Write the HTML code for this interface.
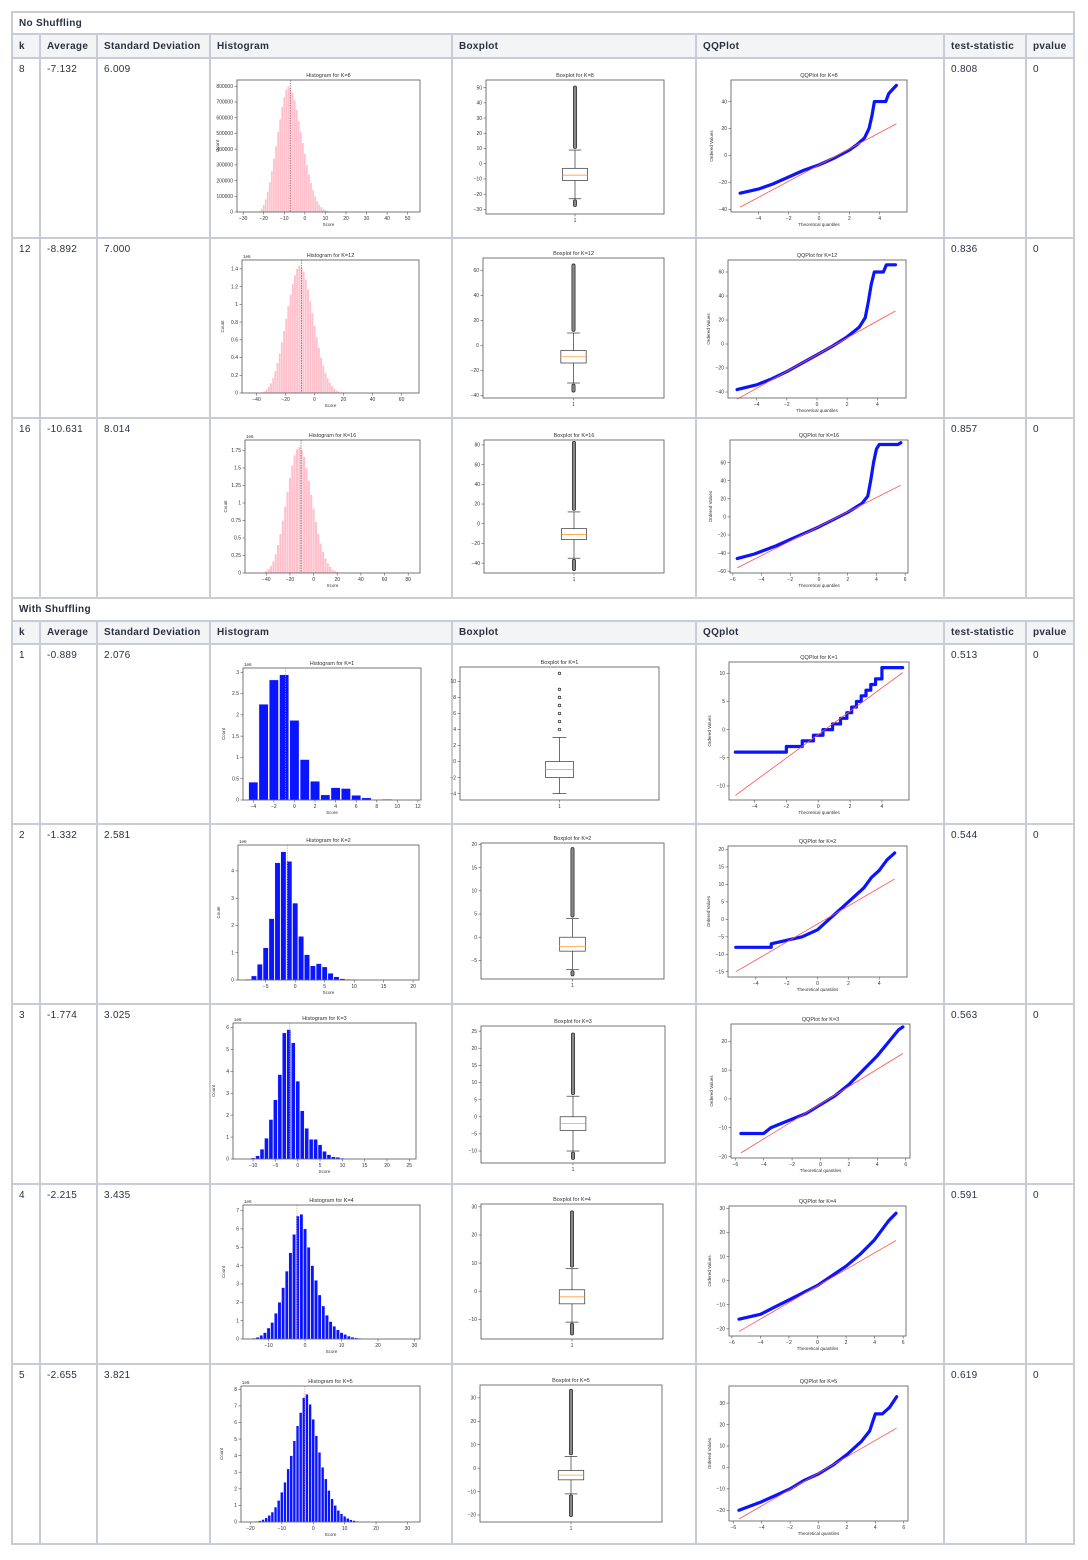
<!DOCTYPE html>
<html><head><meta charset="utf-8">
<style>
body{margin:0;background:#fff;width:1088px;height:1560px;position:relative;font-family:"Liberation Sans",sans-serif;color:#2b3040;}
table{position:absolute;left:11px;top:11px;border-collapse:collapse;table-layout:fixed;width:1062px;}
td,th{border:2px solid #c9ccd6;font-size:10px;text-align:left;vertical-align:top;padding:5px 6px;box-sizing:border-box;letter-spacing:0.3px;}
th{background:#f3f4f6;font-weight:bold;padding:3px 6px;vertical-align:middle;}
tr.sec th{background:#fff;}
tr.row td{height:180px;}
svg#ov{position:absolute;left:0;top:0;pointer-events:none;}
</style></head><body>
<table>
<colgroup><col style="width:28px"><col style="width:57px"><col style="width:113px"><col style="width:242px"><col style="width:244px"><col style="width:248px"><col style="width:82px"><col style="width:48px"></colgroup>
<tr class="sec" style="height:22px"><th colspan="8">No Shuffling</th></tr>
<tr style="height:24px"><th>k</th><th>Average</th><th>Standard Deviation</th><th>Histogram</th><th>Boxplot</th><th>QQPlot</th><th>test-statistic</th><th>pvalue</th></tr>
<tr class="row"><td>8</td><td>-7.132</td><td>6.009</td><td></td><td></td><td></td><td>0.808</td><td>0</td></tr>
<tr class="row"><td>12</td><td>-8.892</td><td>7.000</td><td></td><td></td><td></td><td>0.836</td><td>0</td></tr>
<tr class="row"><td>16</td><td>-10.631</td><td>8.014</td><td></td><td></td><td></td><td>0.857</td><td>0</td></tr>
<tr class="sec" style="height:23px"><th colspan="8">With Shuffling</th></tr>
<tr style="height:23px"><th>k</th><th>Average</th><th>Standard Deviation</th><th>Histogram</th><th>Boxplot</th><th>QQplot</th><th>test-statistic</th><th>pvalue</th></tr>
<tr class="row"><td>1</td><td>-0.889</td><td>2.076</td><td></td><td></td><td></td><td>0.513</td><td>0</td></tr>
<tr class="row"><td>2</td><td>-1.332</td><td>2.581</td><td></td><td></td><td></td><td>0.544</td><td>0</td></tr>
<tr class="row"><td>3</td><td>-1.774</td><td>3.025</td><td></td><td></td><td></td><td>0.563</td><td>0</td></tr>
<tr class="row"><td>4</td><td>-2.215</td><td>3.435</td><td></td><td></td><td></td><td>0.591</td><td>0</td></tr>
<tr class="row"><td>5</td><td>-2.655</td><td>3.821</td><td></td><td></td><td></td><td>0.619</td><td>0</td></tr>
</table>
<svg id="ov" width="1088" height="1560" xmlns="http://www.w3.org/2000/svg"></svg>
<script>
// ---- histogram data ----
const hist8Counts=[5,20,45,80,130,190,260,340,420,510,590,670,730,780,800,790,760,710,650,580,510,440,370,300,240,185,140,100,70,48,32,20,12,7,4,2,1];
const hist12Counts=[0.01,0.02,0.04,0.07,0.11,0.17,0.25,0.34,0.45,0.57,0.70,0.84,0.98,1.11,1.23,1.33,1.40,1.44,1.42,1.37,1.28,1.17,1.04,0.90,0.76,0.63,0.51,0.40,0.31,0.23,0.17,0.12,0.08,0.05,0.03,0.02,0.01];
const hist16Counts=[0.01,0.03,0.06,0.1,0.17,0.27,0.4,0.56,0.75,0.95,1.16,1.36,1.54,1.68,1.77,1.80,1.76,1.66,1.5,1.32,1.12,0.92,0.73,0.56,0.42,0.3,0.21,0.14,0.09,0.05,0.03,0.02,0.01];
const hist1Counts=[0.42,2.25,2.82,2.94,1.87,0.95,0.44,0.12,0.29,0.27,0.11,0.05,0.01,0.02];
const hist2Counts=[0.03,0.15,0.58,1.18,2.25,4.3,4.7,4.35,2.82,1.6,0.93,0.52,0.6,0.48,0.25,0.12,0.05,0.03,0.02];
const hist3Counts=[0.05,0.15,0.45,0.95,1.8,2.7,3.85,5.75,5.9,5.3,3.55,2.2,1.4,0.9,0.9,0.65,0.35,0.2,0.1,0.08,0.04,0.02];
const hist4Counts=[0.01,0.02,0.05,0.1,0.2,0.35,0.6,0.9,1.4,2.0,2.8,3.7,4.7,5.7,6.7,6.8,6.0,5.0,4.0,3.2,2.4,1.8,1.3,0.95,0.7,0.5,0.35,0.25,0.16,0.1,0.06,0.04,0.02];
const hist5Counts=[0.01,0.02,0.04,0.08,0.15,0.25,0.4,0.6,0.9,1.3,1.8,2.4,3.2,4.0,4.9,5.8,6.6,7.5,7.7,7.1,6.2,5.2,4.2,3.3,2.6,1.9,1.4,1.0,0.7,0.5,0.35,0.22,0.14,0.09,0.05,0.03,0.02];
const histBinStart=[-22,-36,-42,-4,-8,-10,-16,-20];
const histBinWidth=[1,1.5,2,1,1,1,1,1];
const histMeans=[-7.132,-8.892,-10.631,-0.889,-1.332,-1.774,-2.215,-2.655];
const histXTicks=[[-30,-20,-10,0,10,20,30,40,50],[-40,-20,0,20,40,60],[-40,-20,0,20,40,60,80],[-4,-2,0,2,4,6,8,10,12],[-5,0,5,10,15,20],[-10,-5,0,5,10,15,20,25],[-10,0,10,20,30],[-20,-10,0,10,20,30]];
const histYTicks=[[0,100,200,300,400,500,600,700,800],[0,0.2,0.4,0.6,0.8,1.0,1.2,1.4],[0,0.25,0.5,0.75,1.0,1.25,1.5,1.75],[0,0.5,1.0,1.5,2.0,2.5,3.0],[0,1,2,3,4],[0,1,2,3,4,5,6],[0,1,2,3,4,5,6,7],[0,1,2,3,4,5,6,7,8]];
// ---- boxplot data: q1, median, q3, lower whisker, upper whisker, min outlier, max outlier ----
const boxStats=[[-11,-7.5,-3,-23,9,-27,50],[-14,-9,-4,-30,10,-36,64],[-16,-11,-5,-35,12,-46,82],[-2,-1,0,-4,3,null,null],[-3,-2,0,-7,4,-8,19],[-4,-2,0,-10,6,-12,24],[-4.5,-2,0.5,-11,8,-15,28],[-5,-3,-1,-11,5,-20,33]];
const box1Outliers=[4,5,6,7,8,9,11];
const boxYTicks=[[-30,-20,-10,0,10,20,30,40,50],[-40,-20,0,20,40,60],[-40,-20,0,20,40,60,80],[-4,-2,0,2,4,6,8,10],[-5,0,5,10,15,20],[-10,-5,0,5,10,15,20,25],[-10,0,10,20,30],[-20,-10,0,10,20,30]];
// ---- QQ data ----
const qq8=[[-5.2,-28],[-4,-25],[-3,-21],[-2,-16],[-1,-11],[0,-7],[1,-2],[2,4],[2.5,8],[3,13],[3.3,20],[3.5,30],[3.65,40],[4.4,40],[4.6,46],[5.1,52]];
const qq12=[[-5.3,-38],[-4,-34],[-3,-29],[-2,-23],[-1,-16],[0,-9],[1,-2],[2,6],[2.8,14],[3.2,22],[3.4,35],[3.6,50],[3.8,60],[4.4,60],[4.6,66],[5.2,66]];
const qq16=[[-5.7,-46],[-4.5,-41],[-3,-32],[-2,-25],[-1,-18],[0,-11],[1,-3],[2,5],[3,15],[3.4,23],[3.6,40],[3.8,60],[4,75],[4.2,80],[5.5,80],[5.7,82]];
const qq1=[[-5.2,-4],[-2,-4],[-2,-3],[-1,-3],[-1,-2],[-0.3,-2],[-0.3,-1],[0.3,-1],[0.3,0],[0.9,0],[0.9,1],[1.4,1],[1.4,2],[1.8,2],[1.8,3],[2.1,3],[2.1,4],[2.4,4],[2.4,5],[2.7,5],[2.7,6],[3,6],[3,7],[3.3,7],[3.3,8],[3.6,8],[3.6,9],[4,9],[4,11],[5.3,11]];
const qq2=[[-5.3,-8],[-3,-8],[-3,-7],[-2,-6],[-1,-5],[0,-3],[0.5,-1],[1,1],[1.5,3],[2,5],[2.5,7],[3,9],[3.5,12],[4,14],[4.5,17],[5,19]];
const qq3=[[-5.6,-12],[-4,-12],[-3.5,-10],[-2,-7],[-1,-5],[0,-2],[1,1],[2,5],[3,10],[4,15],[4.5,18],[5,21],[5.5,24],[5.8,25]];
const qq4=[[-5.5,-16],[-4,-14],[-3,-11],[-2,-8],[-1,-5],[0,-2],[1,2],[2,6],[3,11],[4,17],[4.5,21],[5,25],[5.5,28]];
const qq5=[[-5.6,-20],[-4,-16],[-3,-13],[-2,-10],[-1,-6],[0,-3],[1,1],[2,6],[3,12],[3.6,17],[4,25],[4.5,25],[5,28],[5.5,33]];
const qqStd=[6.009,7.0,8.014,2.076,2.581,3.025,3.435,3.821];
const qqXTicks=[[-4,-2,0,2,4],[-4,-2,0,2,4],[-6,-4,-2,0,2,4,6],[-4,-2,0,2,4],[-4,-2,0,2,4],[-6,-4,-2,0,2,4,6],[-6,-4,-2,0,2,4,6],[-6,-4,-2,0,2,4,6]];
const qqYTicks=[[-40,-20,0,20,40],[-40,-20,0,20,40,60],[-60,-40,-20,0,20,40,60],[-10,-5,0,5,10],[-15,-10,-5,0,5,10,15,20],[-20,-10,0,10,20],[-20,-10,0,10,20,30],[-20,-10,0,10,20,30]];
const kLabels=['8','12','16','1','2','3','4','5'];

// ---- layout (frames and domains) ----
const histFrames=[[237,80,420,212],[242,260,419,393],[245,440,420,573],[243,668,421,800],[238,845,419,980],[233,1023,416,1159],[243,1205,420,1339],[241,1386,420,1522]];
const histXDom=[[-33,56],[-50,72],[-58,90],[-5,12.3],[-9.7,21],[-14.5,26.5],[-17,31.5],[-23,34]];
const histYDom=[[0,840],[0,1.5],[0,1.9],[0,3.1],[0,4.95],[0,6.2],[0,7.3],[0,8.2]];
const boxFrames=[[486,80,664,214],[483,258,664,398],[484,440,664,573],[460,667,659,800],[481,843,664,979],[481,1026,665,1163],[481,1204,663,1339],[480,1385,662,1522]];
const boxYDom=[[-33,55],[-42,70],[-50,85],[-4.8,11.8],[-9,20.3],[-13.5,26.5],[-17,31],[-23,35.5]];
const qqFrames=[[731,80,907,212],[728,260,906,398],[730,440,908,573],[729,662,909,800],[728,846,907,977],[731,1024,910,1158],[729,1206,906,1336],[729,1386,908,1521]];
const qqXDom=[[-5.8,5.8],[-5.9,5.9],[-6.2,6.2],[-5.6,5.7],[-5.8,5.8],[-6.3,6.3],[-6.2,6.2],[-6.3,6.3]];
const qqYDom=[[-42,56],[-45,70],[-62,85],[-12.5,12],[-16.5,21],[-20.5,26],[-23,31],[-25,38]];
const histSets=[hist8Counts,hist12Counts,hist16Counts,hist1Counts,hist2Counts,hist3Counts,hist4Counts,hist5Counts];
const qqSets=[qq8,qq12,qq16,qq1,qq2,qq3,qq4,qq5];

const NS='http://www.w3.org/2000/svg';
const svg=document.getElementById('ov');
function mk(tag,attrs,parent,name){const e=document.createElementNS(NS,tag);for(const k in attrs)e.setAttribute(k,attrs[k]);(parent||svg).appendChild(e);


return e;}
function txt(x,y,s,size,anchor,parent,name,rot){const t=mk('text',{x:x,y:y,'font-size':size,'text-anchor':anchor||'middle',fill:'#333','font-family':'Liberation Sans, sans-serif'},parent,name);if(rot)t.setAttribute('transform','rotate(-90 '+x+' '+y+')');t.textContent=s;return t;}
function axes(g,f,xd,yd){
  const sx=v=>f[0]+(v-xd[0])/(xd[1]-xd[0])*(f[2]-f[0]);
  const sy=v=>f[3]-(v-yd[0])/(yd[1]-yd[0])*(f[3]-f[1]);
  return [sx,sy];
}
function frameRect(g,f){mk('rect',{x:f[0],y:f[1],width:f[2]-f[0],height:f[3]-f[1],fill:'none',stroke:'#555','stroke-width':0.8},g,'plot-frame');}
function yTicks(g,f,sy,ticks,fmt){ticks.forEach(v=>{const y=sy(v);mk('line',{x1:f[0]-2.5,x2:f[0],y1:y,y2:y,stroke:'#555','stroke-width':0.6},g,'y-tick');txt(f[0]-4,y+1.7,fmt?fmt(v):String(v).replace('-','−'),5,'end',g,'y-tick-label');});}
function xTicks(g,f,sx,ticks){ticks.forEach(v=>{const x=sx(v);mk('line',{x1:x,x2:x,y1:f[3],y2:f[3]+2.5,stroke:'#555','stroke-width':0.6},g,'x-tick');txt(x,f[3]+8,String(v).replace('-','−'),5,'middle',g,'x-tick-label');});}

for(let i=0;i<8;i++){
  let f=histFrames[i];let g=mk('g',{},svg,'histogram-k'+kLabels[i]);
  let [sx,sy]=axes(g,f,histXDom[i],histYDom[i]);
  const blue=i>=3,counts=histSets[i],bw=histBinWidth[i];
  counts.forEach((c,j)=>{const v=histBinStart[i]+j*bw;
    const x0=blue?sx(v-0.45):sx(v-bw/2),x1=blue?sx(v+0.45):sx(v+bw/2);
    mk('rect',{x:x0,y:sy(c),width:Math.max(0.5,x1-x0),height:sy(0)-sy(c),fill:blue?'#0a14ff':'#ffc0cb',stroke:'#fff','stroke-width':blue?0.4:0.25},g,'hist-bar');});
  mk('line',{x1:sx(histMeans[i]),x2:sx(histMeans[i]),y1:f[1],y2:f[3],stroke:blue?'#f08080':'#555','stroke-width':0.6,'stroke-dasharray':'1.5,1'},g,'mean-line');
  frameRect(g,f);
  yTicks(g,f,sy,histYTicks[i],i==0?(v=>String(v*1000)):(v=>String(v)));
  xTicks(g,f,sx,histXTicks[i]);
  txt((f[0]+f[2])/2,f[1]-3,'Histogram for K='+kLabels[i],5.5,'middle',g,'hist-title');
  txt((f[0]+f[2])/2,f[3]+14,'Score',4.5,'middle',g,'x-axis-title');
  txt(f[0]-18,(f[1]+f[3])/2,'Count',4.5,'middle',g,'y-axis-title',true);
  if(i>0)txt(f[0]+1,f[1]-2,'1e6',4.5,'start',g,'y-scale-label');

  f=boxFrames[i];g=mk('g',{},svg,'boxplot-k'+kLabels[i]);
  [sx,sy]=axes(g,f,[0,1],boxYDom[i]);
  const s=boxStats[i],cx=(f[0]+f[2])/2,hw=(f[2]-f[0])*0.07;
  mk('line',{x1:cx,x2:cx,y1:sy(s[3]),y2:sy(s[0]),stroke:'#333','stroke-width':0.7},g,'lower-whisker');
  mk('line',{x1:cx,x2:cx,y1:sy(s[2]),y2:sy(s[4]),stroke:'#333','stroke-width':0.7},g,'upper-whisker');
  mk('line',{x1:cx-hw/2,x2:cx+hw/2,y1:sy(s[3]),y2:sy(s[3]),stroke:'#333','stroke-width':0.7},g,'whisker-cap');
  mk('line',{x1:cx-hw/2,x2:cx+hw/2,y1:sy(s[4]),y2:sy(s[4]),stroke:'#333','stroke-width':0.7},g,'whisker-cap');
  mk('rect',{x:cx-hw,y:sy(s[2]),width:2*hw,height:sy(s[0])-sy(s[2]),fill:'#fff',stroke:'#333','stroke-width':0.7},g,'box');
  mk('line',{x1:cx-hw,x2:cx+hw,y1:sy(s[1]),y2:sy(s[1]),stroke:'#ff9f40','stroke-width':0.8},g,'median-line');
  if(i==3){box1Outliers.forEach(v=>mk('circle',{cx:cx,cy:sy(v),r:1.3,fill:'none',stroke:'#222','stroke-width':0.7},g,'outlier'));}
  else{
    if(s[6]!=null){mk('rect',{x:cx-1.6,y:sy(s[6])-1.6,width:3.2,height:sy(s[4])-sy(s[6]),rx:1.6,fill:'#888',stroke:'#222','stroke-width':0.7},g,'upper-outliers');}
    if(s[5]!=null){mk('rect',{x:cx-1.6,y:sy(s[3])+1,width:3.2,height:sy(s[5])-sy(s[3])+0.6,rx:1.6,fill:'#888',stroke:'#222','stroke-width':0.7},g,'lower-outliers');}
  }
  frameRect(g,f);
  yTicks(g,f,sy,boxYTicks[i]);
  mk('line',{x1:cx,x2:cx,y1:f[3],y2:f[3]+2.5,stroke:'#555','stroke-width':0.6},g,'x-tick');
  txt(cx,f[3]+8,'1',5,'middle',g,'x-tick-label');
  txt(cx,f[1]-3,'Boxplot for K='+kLabels[i],5.5,'middle',g,'box-title');

  f=qqFrames[i];g=mk('g',{},svg,'qqplot-k'+kLabels[i]);
  [sx,sy]=axes(g,f,qqXDom[i],qqYDom[i]);
  const pts=qqSets[i];
  mk('polyline',{points:pts.map(p=>sx(p[0])+','+sy(p[1])).join(' '),fill:'none',stroke:'#0a14ff','stroke-width':3.2,'stroke-linejoin':'round','stroke-linecap':'round'},g,'qq-points');
  const xa=pts[0][0],xb=pts[pts.length-1][0];
  mk('line',{x1:sx(xa),y1:sy(histMeans[i]+qqStd[i]*xa),x2:sx(xb),y2:sy(histMeans[i]+qqStd[i]*xb),stroke:'#ff5050','stroke-width':0.8},g,'qq-reference-line');
  frameRect(g,f);
  yTicks(g,f,sy,qqYTicks[i]);
  xTicks(g,f,sx,qqXTicks[i]);
  txt((f[0]+f[2])/2,f[1]-3,'QQPlot for K='+kLabels[i],5.5,'middle',g,'qq-title');
  txt((f[0]+f[2])/2,f[3]+14,'Theoretical quantiles',4.5,'middle',g,'x-axis-title');
  txt(f[0]-18,(f[1]+f[3])/2,'Ordered Values',4.5,'middle',g,'y-axis-title',true);
}
</script>
</body></html>
